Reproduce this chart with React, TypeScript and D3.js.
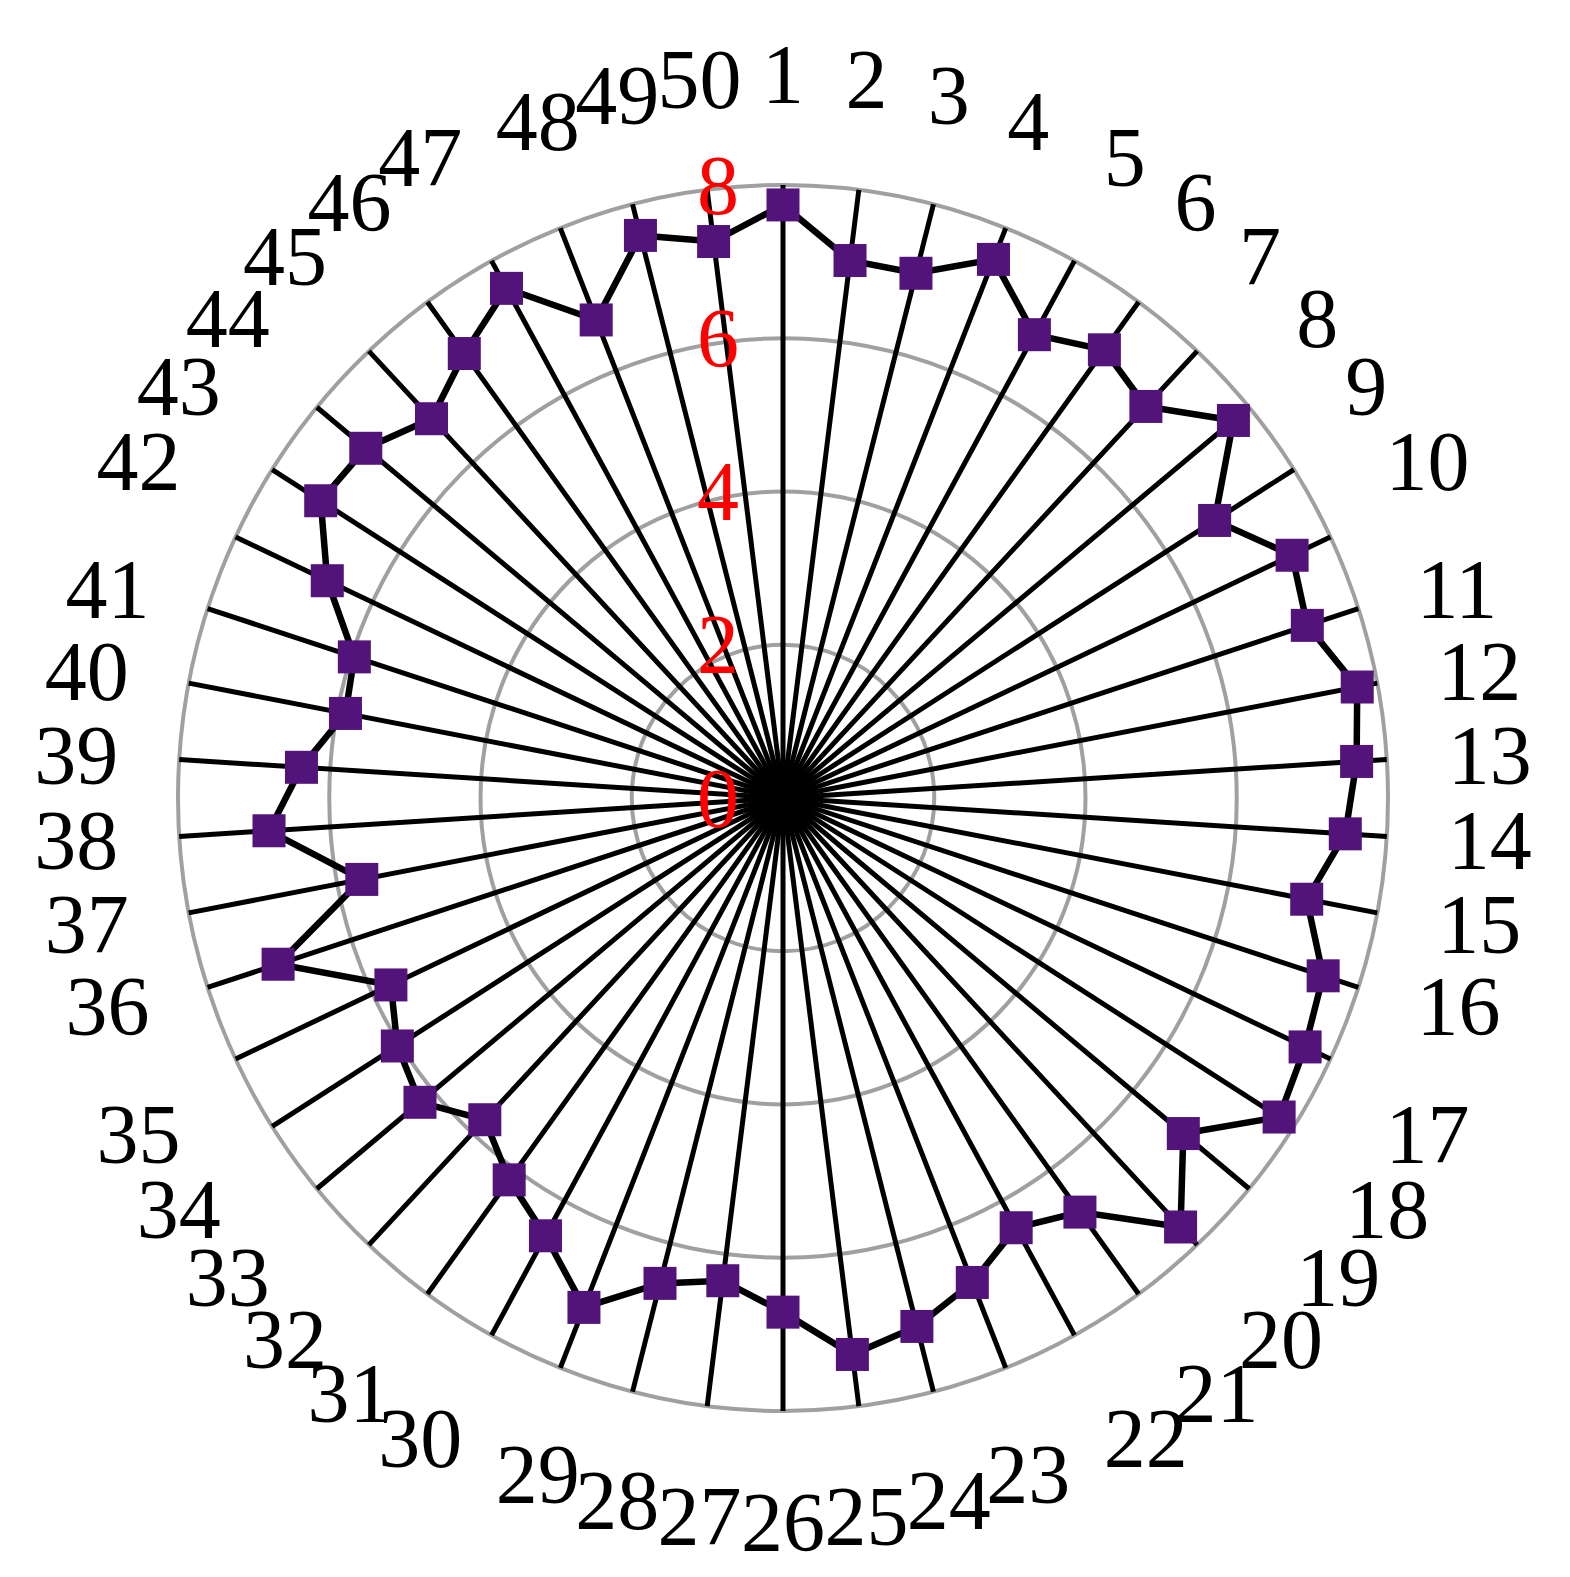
import React, { useEffect, useRef } from 'react';
import * as d3 from 'd3';

// axis names, 1..50 clockwise from top
const categories = Array.from({ length: 50 }, (_, i) => String(i + 1));
const values = [
    7.74, 7.07, 7.07, 7.56, 6.9, 7.23, 7.01, 7.73, 6.76, 7.44,
    7.29, 7.73, 7.6, 7.45, 7.05, 7.51, 7.63, 7.77, 6.87, 7.68,
    6.68, 6.4, 6.8, 7.12, 7.32, 6.71, 6.35, 6.54, 7.15, 6.52,
    6.16, 5.76, 6.23, 6.04, 5.73, 7.02, 5.67, 6.81, 6.38, 5.89,
    5.96, 6.66, 7.24, 7.16, 6.79, 7.17, 7.59, 6.71, 7.58, 7.32,
];
const ticks = [0, 2, 4, 6, 8];

const App = () => {
    const ref = useRef<SVGSVGElement>(null);

    useEffect(() => {
        const width = 1570;
        const height = 1577;
        const cx = 783;
        const cy = 798;
        const font = '"Liberation Serif", "Times New Roman", serif';

        const svg = d3.select(ref.current);
        svg.selectAll('*').remove();

        // slightly taller than wide, like the original
        const rx = d3.scaleLinear().domain([0, 8]).range([0, 605]);
        const ry = d3.scaleLinear().domain([0, 8]).range([0, 613]);
        const angle = d3.scalePoint<string>()
            .domain(categories)
            .range([0, 2 * Math.PI * (categories.length - 1) / categories.length]);

        const px = (c: string, v: number) => cx + rx(v) * Math.sin(angle(c)!);
        const py = (c: string, v: number) => cy - ry(v) * Math.cos(angle(c)!);

        const g = svg.append('g');

        // rings
        g.selectAll('.ring')
            .data(ticks.filter(t => t > 0))
            .enter()
            .append('ellipse')
            .attr('cx', cx)
            .attr('cy', cy)
            .attr('rx', d => rx(d))
            .attr('ry', d => ry(d))
            .attr('fill', 'none')
            .attr('stroke', '#a0a0a0')
            .attr('stroke-width', 4);

        // spokes
        g.selectAll('.spoke')
            .data(categories)
            .enter()
            .append('line')
            .attr('x1', cx)
            .attr('y1', cy)
            .attr('x2', d => px(d, 8))
            .attr('y2', d => py(d, 8))
            .attr('stroke', '#000')
            .attr('stroke-width', 5);

        // tick labels
        g.selectAll('.tick')
            .data(ticks)
            .enter()
            .append('text')
            .attr('x', cx - 65)
            .attr('y', d => cy - ry(d))
            .attr('text-anchor', 'middle')
            .attr('dominant-baseline', 'central')
            .attr('font-family', font)
            .attr('font-size', 84)
            .attr('fill', '#ff0000')
            .text(d => d);

        // series line
        const line = d3.line<number>()
            .x((d, i) => px(categories[i], d))
            .y((d, i) => py(categories[i], d))
            .curve(d3.curveLinearClosed);

        g.append('path')
            .datum(values)
            .attr('d', line)
            .attr('fill', 'none')
            .attr('stroke', '#000')
            .attr('stroke-width', 6.5)
            .attr('stroke-linejoin', 'miter');

        const size = 33;
        g.selectAll('.marker')
            .data(values)
            .enter()
            .append('rect')
            .attr('x', (d, i) => px(categories[i], d) - size / 2)
            .attr('y', (d, i) => py(categories[i], d) - size / 2)
            .attr('width', size)
            .attr('height', size)
            .attr('fill', '#52147a');

        // category labels: anchored by octant (top / upper right / right / ...)
        const gap = 61;
        const octant = (d: string) => Math.round(angle(d)! / (Math.PI / 4)) % 8;
        const anchors = ['middle', 'start', 'start', 'start', 'middle', 'end', 'end', 'end'];
        const shiftY = [-50, -50, 0, 50, 50, 50, 0, -50];
        g.selectAll('.label')
            .data(categories)
            .enter()
            .append('text')
            .attr('x', d => cx + (rx(8) + gap) * Math.sin(angle(d)!))
            .attr('y', d => cy - (ry(8) + gap) * Math.cos(angle(d)!) + shiftY[octant(d)])
            .attr('text-anchor', d => anchors[octant(d)])
            .attr('dominant-baseline', 'central')
            .attr('font-family', font)
            .attr('font-size', 84)
            .attr('fill', '#000')
            .text(d => d);

        svg.attr('width', width).attr('height', height);
    }, []);

    return (
        <svg ref={ref} width={1570} height={1577}
            style={{ position: 'absolute', left: 0, top: 0, background: '#fff' }} />
    );
};

export default App;
